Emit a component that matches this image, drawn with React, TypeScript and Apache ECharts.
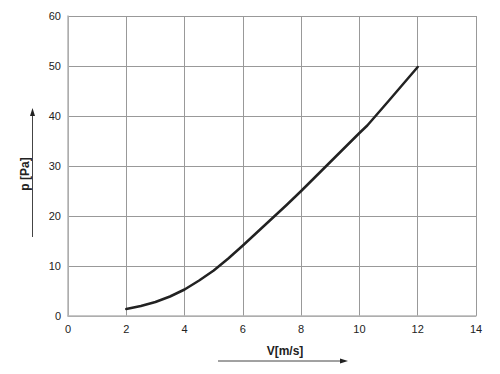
import React, { useEffect, useRef } from "react";
import * as echarts from "echarts";

const velocity = [2, 2.5, 3, 3.5, 4, 4.5, 5, 5.5, 6, 6.5, 7, 7.5, 8, 9, 10, 10.27, 11, 12];
const pressure = [1.4, 2.0, 2.8, 3.9, 5.3, 7.1, 9.1, 11.5, 14.1, 16.8, 19.5, 22.2, 25.0, 30.8, 36.6, 38.1, 43.0, 49.8];
const xTitle = "V[m/s]";
const yTitle = "p [Pa]";

export default function App() {
  const ref = useRef<HTMLDivElement>(null);
  useEffect(() => {
    if (!ref.current) return;
    const chart = echarts.init(ref.current, undefined, { renderer: "svg" });
    const font = "'Liberation Sans', Arial, sans-serif";
    chart.setOption({
      animation: false,
      backgroundColor: "#fff",
      grid: { left: 68, right: 24, top: 16, bottom: 58, containLabel: false },
      xAxis: {
        type: "value",
        min: 0,
        max: 14,
        interval: 2,
        axisLine: { show: true, lineStyle: { color: "#b5b5b5", width: 1.5 } },
        axisTick: { show: false },
        axisLabel: { color: "#222", fontSize: 11, fontFamily: font, margin: 7 },
        splitLine: { show: true, lineStyle: { color: "#999", width: 1 } },
      },
      yAxis: {
        type: "value",
        min: 0,
        max: 60,
        interval: 10,
        axisLine: { show: true, lineStyle: { color: "#b5b5b5", width: 1.5 } },
        axisTick: { show: false },
        axisLabel: { color: "#222", fontSize: 11, fontFamily: font, margin: 7 },
        splitLine: { show: true, lineStyle: { color: "#999", width: 1 } },
      },
      series: [
        {
          type: "line",
          data: velocity.map((v, i) => [v, pressure[i]]),
          showSymbol: false,
          smooth: false,
          lineStyle: { color: "#222", width: 2.5, join: "round", cap: "round" },
        },
      ],
      graphic: [
        {
          type: "text",
          x: 285,
          y: 351,
          style: { text: xTitle, font: `bold 12px ${font}`, fill: "#222", align: "center", verticalAlign: "middle" },
        },
        { type: "line", shape: { x1: 218, y1: 361, x2: 342, y2: 361 }, style: { stroke: "#444", lineWidth: 1 } },
        { type: "polygon", shape: { points: [[348, 361], [340, 358.5], [340, 363.5]] }, style: { fill: "#222" } },
        {
          type: "text",
          x: 25,
          y: 174,
          rotation: Math.PI / 2,
          style: { text: yTitle, font: `bold 12px ${font}`, fill: "#222", align: "center", verticalAlign: "middle" },
        },
        { type: "line", shape: { x1: 32.5, y1: 237, x2: 32.5, y2: 114 }, style: { stroke: "#444", lineWidth: 1 } },
        { type: "polygon", shape: { points: [[32.5, 108], [30, 116], [35, 116]] }, style: { fill: "#222" } },
      ],
    });
    return () => chart.dispose();
  }, []);
  return <div ref={ref} style={{ width: 500, height: 374, position: "absolute", left: 0, top: 0 }} />;
}
